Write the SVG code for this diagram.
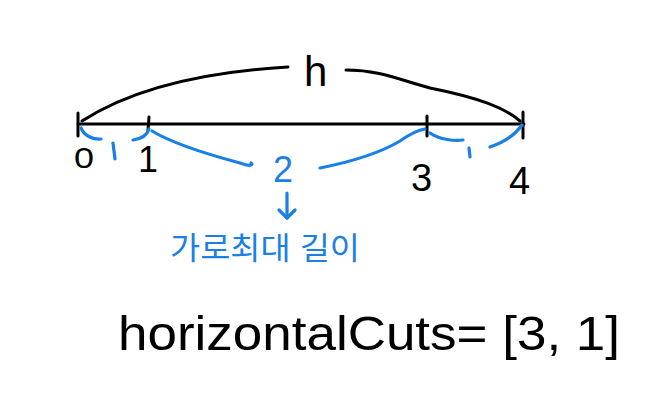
<svg xmlns="http://www.w3.org/2000/svg" width="658" height="400" viewBox="0 0 658 400">
<style>
.k{fill:none;stroke:#000;stroke-width:3;stroke-linecap:round;stroke-linejoin:round}
.b{fill:none;stroke:#1a7fe6;stroke-width:3.2;stroke-linecap:round;stroke-linejoin:round}
.tk{font-family:"Liberation Sans","Noto Sans",sans-serif;fill:#000}
.tb{font-family:"Liberation Sans","Noto Sans CJK KR",sans-serif;fill:#1a7fe6}
</style>
<rect width="658" height="400" fill="#fff"/>
<g id="axis">
<path class="k" d="M78 124 L524 124"/>
<path class="k" d="M78 113 L78 136"/>
<path class="k" d="M149 117 L148 130"/>
<path class="k" d="M427 116 L427 136"/>
<path class="k" d="M523 112 L523 138"/>
<path class="k" d="M82 121 C130 90 200 72 288 67"/>
<path class="k" d="M346 70 C380 70 400 80 430 88 C480 98 505 108 520 121"/>
<text class="tk" x="304" y="86" font-size="42">h</text>
<text class="tk" x="74" y="168" font-size="30" textLength="20" lengthAdjust="spacingAndGlyphs">0</text>
<text class="tk" x="138" y="172" font-size="36">1</text>
<text class="tk" x="411" y="191" font-size="38">3</text>
<text class="tk" x="509" y="194" font-size="38">4</text>
</g>
<g id="braces">
<path class="b" d="M81 128 C84 135 92 140 101 139"/>
<path class="b" d="M113 143 L115 159"/>
<path class="b" d="M133 140 C140 139 147 136 149 129"/>
<path class="b" d="M152 131 C175 145 210 155 240 163 C250 167 254 165 251 163"/>
<path class="b" d="M320 168 C360 160 385 150 400 141 C410 134 418 130 425 129"/>
<path class="b" d="M430 133 C440 140 455 141 463 140"/>
<path class="b" d="M469 148 L470 157"/>
<path class="b" d="M490 147 C505 142 515 135 522 125"/>
<text class="tb" x="273" y="182" font-size="36">2</text>
</g>
<g id="arrow">
<path class="b" d="M287 193 L287 218"/>
<path class="b" d="M279 210 L287 218 L295 210"/>
</g>
<g id="label">
<text class="tb" x="170" y="259" font-size="31" textLength="190" lengthAdjust="spacingAndGlyphs">가로최대 길이</text>
</g>
<g id="cuts">
<text class="tk" x="118" y="350" font-size="48" textLength="502" lengthAdjust="spacingAndGlyphs">horizontalCuts= [3, 1]</text>
</g>
</svg>
